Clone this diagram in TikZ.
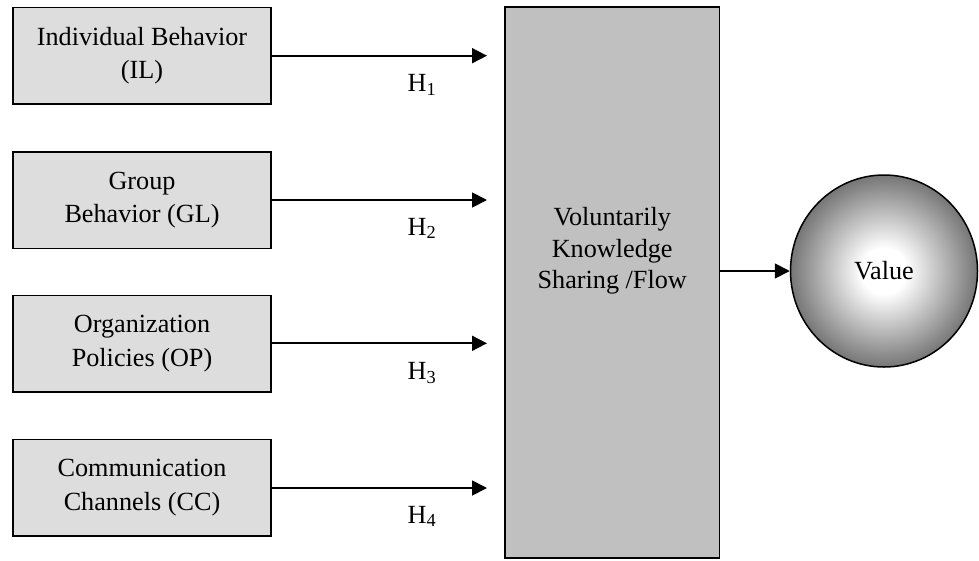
\documentclass[tikz,border=0pt]{standalone}
\usepackage{fontspec}
\setmainfont{Liberation Serif}
\usetikzlibrary{arrows.meta,shapes.geometric}
\definecolor{boxgray}{HTML}{DDDDDD}
\definecolor{tallgray}{HTML}{C0C0C0}
\definecolor{edgegray}{HTML}{767676}
\pgfdeclareradialshading{valshade}{\pgfpoint{0bp}{0bp}}{color(0bp)=(white); color(6bp)=(white); color(25bp)=(edgegray); color(50bp)=(edgegray)}
\begin{document}
\begin{tikzpicture}[x=1pt,y=-1pt,
  txt/.style={font=\fontsize{26.2}{33.5}\selectfont},
  smallbox/.style={draw, line width=1.5pt, fill=boxgray, minimum width=258pt, minimum height=96.5pt, inner sep=0pt, align=center, txt},
  arr/.style={line width=1.8pt, -{Triangle[length=15pt,width=15pt]}},
  hlab/.style={anchor=base west, inner sep=0pt, txt}]
\useasboundingbox (0,0) rectangle (979,560);
\node[smallbox] (il) at (142,55.5) {Individual Behavior\\(IL)};
\node[smallbox] (gl) at (142,200) {Group\\Behavior (GL)};
\node[smallbox] (op) at (142,343.5) {Organization\\Policies (OP)};
\node[smallbox] (cc) at (142,487.7) {Communication\\Channels (CC)};
\node[draw, line width=1.5pt, fill=tallgray, minimum width=214.5pt, minimum height=551pt, inner sep=0pt] (ks) at (612.2,282.5) {};
\node[align=center, inner sep=0pt, font=\fontsize{26.2}{31.5}\selectfont] (kst) at (612.2,251) {Voluntarily\\Knowledge\\Sharing /Flow};
\node[ellipse, draw, line width=1.5pt, shading=valshade, minimum width=187pt, minimum height=192pt, inner sep=0pt, txt] (val) at (884,271) {Value};
\coordinate (t1) at (487,55.7);
\coordinate (t2) at (487,200);
\coordinate (t3) at (487,343.3);
\coordinate (t4) at (487,488);
\draw[arr] (il.east |- t1) -- (t1);
\draw[arr] (gl.east |- t2) -- (t2);
\draw[arr] (op.east |- t3) -- (t3);
\draw[arr] (cc.east |- t4) -- (t4);
\draw[arr] (ks.east |- val.west) -- (val.west);
\node[hlab] (h1) at (407.5,91.7) {H\textsubscript{1}};
\node[hlab] (h2) at (407.5,235) {H\textsubscript{2}};
\node[hlab] (h3) at (407.5,379.5) {H\textsubscript{3}};
\node[hlab] (h4) at (407.5,523) {H\textsubscript{4}};
\end{tikzpicture}
\end{document}
